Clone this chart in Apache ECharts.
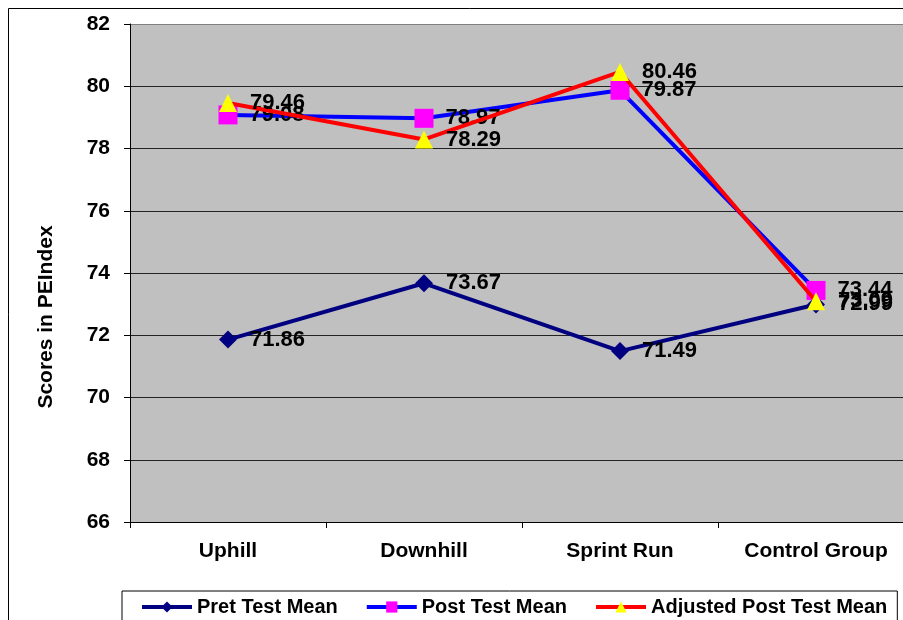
<!DOCTYPE html>
<html>
<head>
<meta charset="utf-8">
<script src="https://cdn.jsdelivr.net/npm/echarts@6/dist/echarts.min.js"></script>
<style>
html,body{margin:0;padding:0;background:#fff;overflow:hidden;}
#chart{width:930px;height:620px;}
</style>
</head>
<body>
<div id="chart"></div>
<script>
const categories = ['Uphill', 'Downhill', 'Sprint Run', 'Control Group'];
const pretMean = [71.86, 73.67, 71.49, 72.99];
const postMean = [79.08, 78.97, 79.87, 73.44];
const adjustedMean = [79.46, 78.29, 80.46, 73.09];
const seriesNames = ['Pret Test Mean', 'Post Test Mean', 'Adjusted Post Test Mean'];
const yAxisTitle = 'Scores in PEIndex';

const font = 'Arial, "Liberation Sans", sans-serif';
const chart = echarts.init(document.getElementById('chart'));

function lbl(dist) {
  return {
    show: true, position: 'right', distance: dist,
    color: '#000', fontFamily: font, fontWeight: 'bold', fontSize: 22,
    formatter: p => p.value.toFixed(2)
  };
}

const gridColors = ['#222', '#222', '#222', '#222', '#222', '#222', '#222', '#222', '#808080'];

chart.setOption({
  animation: false,
  backgroundColor: '#fff',
  textStyle: { fontFamily: font },
  grid: { left: 130, top: 24, width: 784, bottom: 98, backgroundColor: '#C0C0C0', show: true, borderWidth: 0 },
  xAxis: {
    type: 'category', data: categories, boundaryGap: true,
    axisLine: { lineStyle: { color: '#000', width: 1 } },
    axisTick: { show: true, length: 6, lineStyle: { color: '#000' } },
    axisLabel: { color: '#000', fontWeight: 'bold', fontSize: 21, fontFamily: font, margin: 19 }
  },
  yAxis: {
    type: 'value', min: 66, max: 82, interval: 2,
    axisLine: { show: true, lineStyle: { color: '#000', width: 1 } },
    axisTick: { show: true, length: 6, lineStyle: { color: '#000' } },
    axisLabel: { color: '#000', fontWeight: 'bold', fontSize: 21, fontFamily: font, margin: 20 },
    splitLine: { show: true, lineStyle: { color: gridColors, width: 1 } }
  },
  legend: {
    left: 122, top: 591, orient: 'horizontal',
    borderColor: '#000', borderWidth: 1, backgroundColor: '#fff',
    padding: [6, 10, 10, 18], itemGap: 27, itemWidth: 50, itemHeight: 14,
    lineStyle: { width: 4 },
    textStyle: { color: '#000', fontWeight: 'bold', fontSize: 20, fontFamily: font },
    data: seriesNames
  },
  graphic: [
    { type: 'rect', shape: { x: 8.5, y: 8.5, width: 1200, height: 1200 }, style: { fill: 'none', stroke: '#000', lineWidth: 1 }, silent: true, z: 100 },
    { type: 'text', x: 46, y: 317, rotation: Math.PI / 2,
      style: { text: yAxisTitle, fill: '#000', font: 'bold 21px ' + font, textAlign: 'center', textVerticalAlign: 'middle' } }
  ],
  series: [
    { name: seriesNames[0], type: 'line', data: pretMean, z: 2,
      symbol: 'diamond', symbolSize: 18,
      lineStyle: { color: '#000080', width: 4 }, itemStyle: { color: '#000080' },
      label: lbl(13) },
    { name: seriesNames[1], type: 'line', data: postMean, z: 3,
      symbol: 'rect', symbolSize: 19,
      lineStyle: { color: '#0000FF', width: 4 }, itemStyle: { color: '#FF00FF' },
      label: lbl(12) },
    { name: seriesNames[2], type: 'line', data: adjustedMean, z: 4,
      symbol: 'triangle', symbolSize: 18,
      lineStyle: { color: '#FF0000', width: 4 }, itemStyle: { color: '#FFFF00' },
      label: lbl(13) }
  ]
});
</script>
</body>
</html>
